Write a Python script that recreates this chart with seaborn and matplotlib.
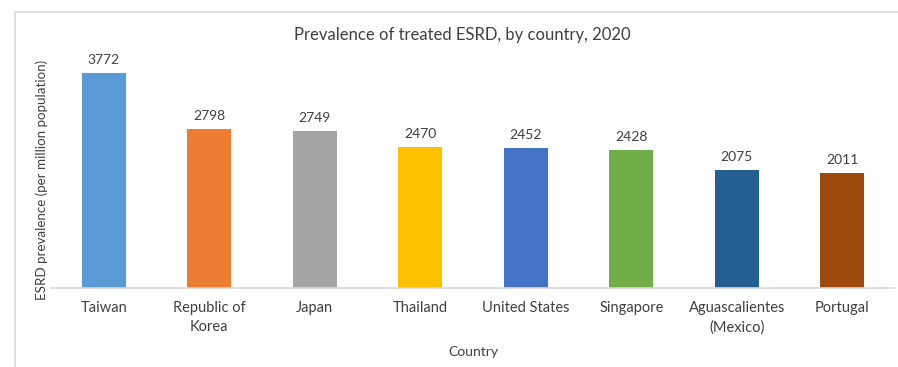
import matplotlib
matplotlib.use("Agg")
import matplotlib.pyplot as plt
from matplotlib.patches import Rectangle
import seaborn as sns
import pandas as pd

countries = ["Taiwan", "Republic of\nKorea", "Japan", "Thailand", "United States",
             "Singapore", "Aguascalientes\n(Mexico)", "Portugal"]
prevalence = [3772, 2798, 2749, 2470, 2452, 2428, 2075, 2011]
bar_colors = ["#5B9BD5", "#ED7D31", "#A5A5A5", "#FFC000", "#4472C4",
              "#70AD47", "#255E91", "#9E480E"]

sns.set_theme(style="white")
plt.rcParams["font.family"] = ["Lato", "DejaVu Sans"]

W, H = 898, 367
fig = plt.figure(figsize=(W / 100, H / 100), dpi=100)
ax = fig.add_axes([51 / W, 1 - 287.5 / H, (895 - 51) / W, (287.5 - 60.3) / H])

df = pd.DataFrame({"Country": countries, "Prevalence": prevalence})
sns.barplot(data=df, x="Country", y="Prevalence", hue="Country",
            palette=bar_colors, width=0.42, legend=False, ax=ax,
            saturation=1, edgecolor="none")

ax.set_ylim(0, 4000)
ax.set_xlim(-0.5, len(countries) - 0.5)
ax.set_yticks([])

for i, v in enumerate(prevalence):
    ax.annotate(f"{v}", (i, v), xytext=(0, 5), textcoords="offset points",
                ha="center", va="bottom", fontsize=10, color="#404040")

for s in ["top", "right", "left"]:
    ax.spines[s].set_visible(False)
ax.spines["bottom"].set_color("#D9D9D9")
ax.spines["bottom"].set_linewidth(1.2)

ax.tick_params(axis="x", length=0, pad=10, labelsize=10.5, labelcolor="#404040")
for lbl in ax.get_xticklabels():
    lbl.set_linespacing(1.45)
ax.set_xlabel("Country", fontsize=10, color="#404040", labelpad=8)
ax.set_ylabel("")

fig.text(42 / W, 1 - 180 / H, "ESRD prevalence (per million population)",
         rotation=90, ha="center", va="center", fontsize=9.6, color="#404040")

fig.text(462 / W, 1 - 35 / H, "Prevalence of treated ESRD, by country, 2020",
         ha="center", va="center", fontsize=12, color="#404040")

fig.patches.append(Rectangle((15 / W, -0.1), 1.2, (H - 12) / H + 0.1,
                             transform=fig.transFigure, fill=False,
                             edgecolor="#D9D9D9", linewidth=1.2))

fig.savefig("out.png", dpi=100, facecolor="white")
